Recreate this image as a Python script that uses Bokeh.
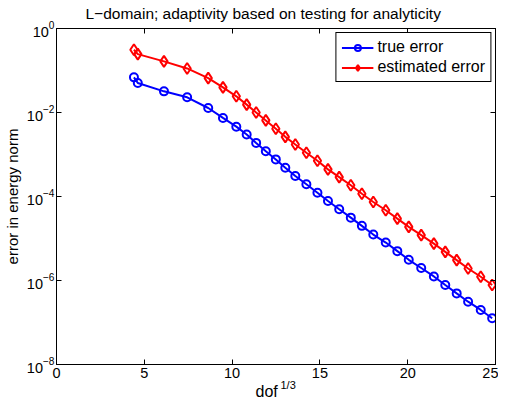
from bokeh.plotting import figure
from bokeh.models import FixedTicker, LinearAxis, Range1d, Legend, LegendItem, CustomJSTickFormatter, Title
from bokeh.embed import file_html
from bokeh.resources import INLINE

dof = [4.41, 4.63, 6.12, 7.44, 8.64, 9.48, 10.24, 10.83, 11.37, 11.92,
       12.49, 13.03, 13.60, 14.23, 14.86, 15.46, 16.10, 16.76, 17.39, 18.04,
       18.75, 19.41, 20.06, 20.77, 21.49, 22.14, 22.79, 23.44, 24.16, 24.81]
true_err = [0.0687, 0.0503, 0.0319, 0.0230, 0.0128, 7.43e-3, 4.6e-3, 3.0e-3, 1.89e-3, 1.19e-3,
            7.64e-4, 4.83e-4, 3.07e-4, 1.95e-4, 1.23e-4, 7.82e-5, 4.97e-5, 3.14e-5, 2.0e-5, 1.24e-5,
            8.0e-6, 5.0e-6, 3.11e-6, 1.98e-6, 1.25e-6, 7.8e-7, 4.93e-7, 3.13e-7, 1.99e-7, 1.26e-7]
est_err = [0.312, 0.245, 0.165, 0.112, 0.066, 0.0397, 0.0243, 0.0154, 9.97e-3, 6.48e-3,
           4.11e-3, 2.63e-3, 1.73e-3, 1.10e-3, 7.08e-4, 4.42e-4, 2.90e-4, 1.85e-4, 1.16e-4, 7.40e-5,
           4.70e-5, 2.97e-5, 1.89e-5, 1.20e-5, 7.57e-6, 4.81e-6, 3.06e-6, 1.93e-6, 1.23e-6, 7.8e-7]
x_ticks = [0, 5, 10, 15, 20, 25]
y_ticks = [1e-8, 1e-6, 1e-4, 1e-2, 1]

FONT = "Liberation Sans"

p = figure(width=498, height=409, y_axis_type="log",
           x_range=Range1d(0, 25), y_range=Range1d(1e-8, 1),
           output_backend="svg", toolbar_location=None,
           min_border_left=51, min_border_right=2, min_border_top=28, min_border_bottom=45)

p.title.text = "L\u2212domain; adaptivity based on testing for analyticity"
p.title.align = "left"
p.title.offset = 29
p.title.text_font = FONT
p.title.text_font_size = "15.5px"
p.title.text_font_style = "normal"
p.title.text_color = "black"
p.title.standoff = 5

p.xgrid.visible = False
p.ygrid.visible = False
p.outline_line_color = "black"
p.outline_line_alpha = 1
p.outline_line_width = 1
p.background_fill_color = "white"
p.border_fill_color = "white"

for ax in (p.xaxis[0], p.yaxis[0]):
    ax.major_tick_in = 5
    ax.major_tick_out = 0
    ax.minor_tick_in = 0
    ax.minor_tick_out = 0
    ax.axis_line_color = "black"
    ax.major_tick_line_color = "black"
    ax.major_label_text_font = FONT
    ax.major_label_text_font_size = "14.5px"
    ax.major_label_text_color = "black"

p.xaxis.ticker = FixedTicker(ticks=x_ticks, minor_ticks=[])
p.yaxis.ticker = FixedTicker(ticks=y_ticks, minor_ticks=[])
p.xaxis.major_label_standoff = 3
p.yaxis.major_label_standoff = 2

p.yaxis.axis_label = "error in energy norm"
p.yaxis.axis_label_text_font = FONT
p.yaxis.axis_label_text_font_size = "15px"
p.yaxis.axis_label_text_font_style = "normal"
p.yaxis.axis_label_text_color = "black"
p.yaxis.axis_label_standoff = 3

blank = CustomJSTickFormatter(code="return ' ';")
top = LinearAxis(ticker=FixedTicker(ticks=x_ticks, minor_ticks=[]), formatter=blank,
                 major_tick_in=5, major_tick_out=0, minor_tick_in=0, minor_tick_out=0,
                 major_label_standoff=0, major_label_text_font_size="1px",
                 axis_line_color="black")
right = LinearAxis(ticker=FixedTicker(ticks=y_ticks, minor_ticks=[]), formatter=blank,
                   major_tick_in=5, major_tick_out=0, minor_tick_in=0, minor_tick_out=0,
                   major_label_standoff=0, major_label_text_font_size="1px",
                   axis_line_color="black")
p.add_layout(top, "above")
p.add_layout(right, "right")

sup = Title(text="1/3", align="left", offset=224, standoff=-8,
            text_font=FONT, text_font_size="11px", text_font_style="normal", text_color="black")
xlab = Title(text="dof", align="left", offset=199, standoff=-12,
             text_font=FONT, text_font_size="16px", text_font_style="normal", text_color="black")
p.add_layout(sup, "below")
p.add_layout(xlab, "below")

l1 = p.line(dof, true_err, line_color="blue", line_width=2)
s1 = p.scatter(dof, true_err, marker="circle", size=8, line_color="blue",
               fill_color=None, line_width=2)
l2 = p.line(dof, est_err, line_color="red", line_width=2)
s2 = p.scatter(dof, est_err, marker="diamond", size=11, line_color="red",
               fill_color=None, line_width=2)

legend = Legend(items=[LegendItem(label="true error", renderers=[l1, s1]),
                       LegendItem(label="estimated error", renderers=[l2, s2])],
                location="top_right")
legend.label_text_font = FONT
legend.label_text_font_size = "16px"
legend.label_text_color = "black"
legend.border_line_color = "black"
legend.border_line_alpha = 1
legend.border_line_width = 1
legend.background_fill_alpha = 1
legend.glyph_width = 32
legend.glyph_height = 15
legend.label_height = 15
legend.spacing = 2
legend.padding = 5
legend.margin = 4
legend.label_standoff = 4
p.add_layout(legend, "center")

open("out.html", "w").write(file_html(p, INLINE))
